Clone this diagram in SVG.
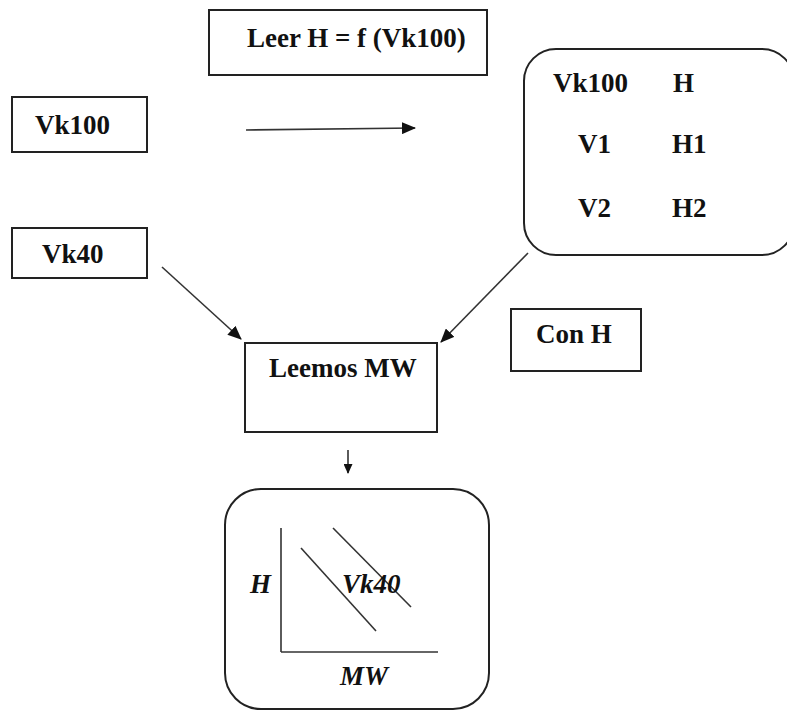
<svg xmlns="http://www.w3.org/2000/svg" width="787" height="711" viewBox="0 0 787 711">
<style>
.box{fill:#fff;stroke:#222;stroke-width:2}
.t{font-family:"Liberation Serif","Times New Roman",serif;font-weight:bold;font-size:27px;fill:#111}
.i{font-style:italic}
.ln{stroke:#333;stroke-width:1.6;fill:none}
</style>
<defs>
<marker id="ah" markerWidth="14" markerHeight="12" refX="13" refY="6" orient="auto" markerUnits="userSpaceOnUse">
<path d="M0,0 L14,6 L0,12 z" fill="#111"/>
</marker>
<marker id="ahs" markerWidth="10" markerHeight="9" refX="9" refY="4.5" orient="auto" markerUnits="userSpaceOnUse">
<path d="M0,0 L10,4.5 L0,9 z" fill="#111"/>
</marker>
</defs>
<rect width="787" height="711" fill="#fff"/>
<g id="leer">
<rect class="box" x="209" y="10" width="278" height="65"/>
<text class="t" x="247" y="47">Leer H = f (Vk100)</text>
</g>
<g id="vk100">
<rect class="box" x="12" y="97" width="135" height="55"/>
<text class="t" x="35" y="134">Vk100</text>
</g>
<g id="vk40">
<rect class="box" x="12" y="228" width="135" height="50"/>
<text class="t" x="42" y="263">Vk40</text>
</g>
<g id="table">
<rect class="box" x="524" y="49" width="270" height="206" rx="32" ry="32"/>
<text class="t" x="553" y="92">Vk100</text>
<text class="t" x="673" y="92">H</text>
<text class="t" x="578" y="153">V1</text>
<text class="t" x="672" y="153">H1</text>
<text class="t" x="578" y="217">V2</text>
<text class="t" x="672" y="217">H2</text>
</g>
<g id="leemos">
<rect class="box" x="245" y="343" width="192" height="89"/>
<text class="t" x="269" y="377">Leemos MW</text>
</g>
<g id="conh">
<rect class="box" x="511" y="309" width="130" height="62"/>
<text class="t" x="536" y="343">Con H</text>
</g>
<g id="chart">
<rect class="box" x="225" y="489" width="264" height="220" rx="36" ry="36"/>
<line class="ln" x1="281" y1="528" x2="281" y2="652"/>
<line class="ln" x1="281" y1="652" x2="438" y2="652"/>
<line class="ln" x1="301" y1="548" x2="376" y2="631"/>
<line class="ln" x1="333" y1="528" x2="411" y2="607"/>
<text class="t i" x="250" y="593">H</text>
<text class="t i" x="342" y="593">Vk40</text>
<text class="t i" x="340" y="685">MW</text>
</g>
<g id="connectors">
<line class="ln" x1="246" y1="130" x2="415" y2="128" marker-end="url(#ah)"/>
<line class="ln" x1="162" y1="267" x2="241" y2="339" marker-end="url(#ah)"/>
<line class="ln" x1="528" y1="253" x2="441" y2="342" marker-end="url(#ah)"/>
<line class="ln" x1="348" y1="450" x2="348" y2="473" marker-end="url(#ahs)"/>
</g>
</svg>
